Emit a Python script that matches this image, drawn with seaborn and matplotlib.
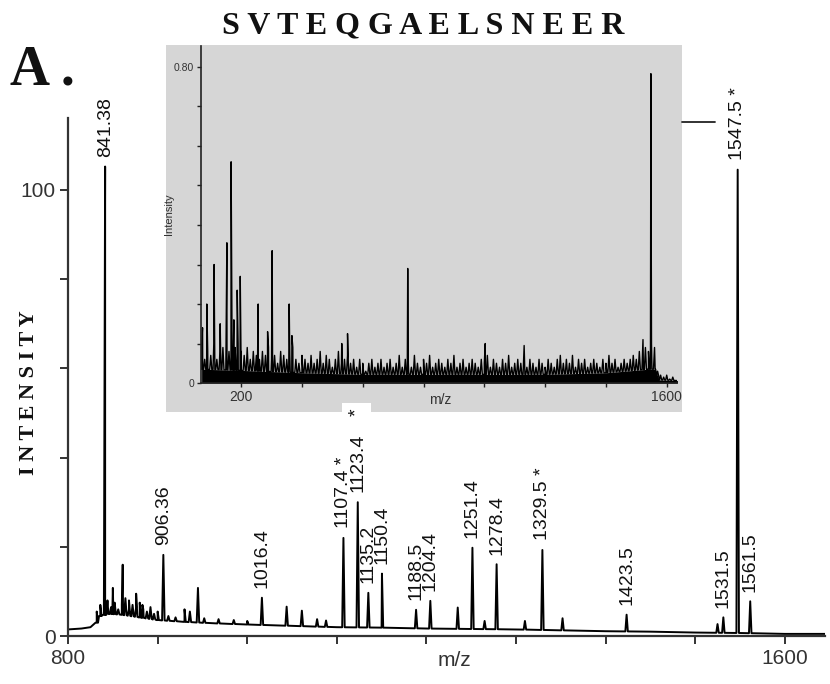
import numpy as np
import pandas as pd
import matplotlib
matplotlib.use("Agg")
import matplotlib.pyplot as plt
from matplotlib.patches import Rectangle
from matplotlib.lines import Line2D
import seaborn as sns

# ---------------- data ----------------
title = "SVTEQGAELSNEER"
panel = "A ."

# main spectrum baseline (m/z, relative intensity)
base_mz = [800, 815, 825, 832, 836, 845, 860, 880, 900, 930, 960, 1000, 1050,
           1100, 1150, 1200, 1250, 1300, 1350, 1400, 1450, 1500, 1550, 1600, 1645]
base_int = [1.5, 1.7, 2.0, 3.0, 4.5, 5.0, 4.8, 4.2, 3.6, 3.2, 2.9, 2.6, 2.3,
            2.0, 1.9, 1.7, 1.6, 1.5, 1.3, 1.1, 1.0, 0.8, 0.7, 0.5, 0.5]

# small fuzz on the baseline just above 830
fuzz_mz = [832, 836, 840, 844, 848, 852, 856, 860, 864, 868, 872, 876, 880,
           884, 888, 892, 896, 900, 912, 920, 936, 952, 968, 985, 1000]
fuzz_int = [5.5, 7.0, 6.0, 8.0, 6.5, 7.5, 6.0, 7.0, 8.5, 6.0, 7.0, 6.5, 7.5,
            6.0, 5.5, 6.5, 5.0, 5.5, 4.5, 4.2, 5.5, 4.0, 3.8, 3.6, 3.4]

# main spectrum peaks
peak_mz = [841.38, 850, 861, 868, 876, 883, 906.36,
           930, 945, 1016.4, 1044, 1061, 1078, 1088, 1107.4, 1123.4, 1135.2,
           1150.4, 1188.5, 1204.4, 1235, 1251.4, 1265, 1278.4, 1310, 1329.5,
           1352, 1423.5, 1525, 1531.5, 1547.5, 1561.5]
peak_int = [105.2, 10.8, 16.0, 8.0, 9.5, 7.0, 18.2,
            6.0, 10.8, 8.6, 6.6, 5.7, 3.8, 3.5, 22.0, 30.0, 9.7,
            14.0, 5.9, 7.9, 6.4, 19.8, 3.4, 16.1, 3.4, 19.3,
            4.0, 4.8, 2.7, 4.2, 104.5, 7.8]

# labelled peaks
label_mz = [841.38, 906.36, 1016.4, 1107.4, 1123.4, 1135.2, 1150.4, 1188.5,
            1204.4, 1251.4, 1278.4, 1329.5, 1423.5, 1531.5, 1547.5, 1561.5]
label_txt = ["841.38", "906.36", "1016.4", "1107.4", "1123.4", "1135.2",
             "1150.4", "1188.5", "1204.4", "1251.4", "1278.4", "1329.5",
             "1423.5", "1531.5", "1547.5", "1561.5"]
starred = [1107.4, 1123.4, 1329.5, 1547.5]

# inset (full-range) spectrum
inset_peak_mz = [73, 87, 111, 131, 153, 167, 176, 187, 197, 256, 287, 302,
                 358, 367, 531, 550, 748, 1003, 1131, 1522, 1548]
inset_peak_int = [0.14, 0.20, 0.30, 0.15, 0.355, 0.56, 0.16, 0.235, 0.27, 0.20,
                  0.13, 0.335, 0.20, 0.12, 0.10, 0.125, 0.29, 0.10, 0.095,
                  0.11, 0.783]
inset_noise_start, inset_noise_step = 70, 10
inset_noise = [
    0.09, 0.06, 0.08, 0.07, 0.10, 0.06, 0.08, 0.09, 0.07, 0.08,
    0.07, 0.09, 0.10, 0.08, 0.07, 0.09, 0.06, 0.08, 0.07, 0.06,
    0.08, 0.07, 0.09, 0.06, 0.07, 0.05, 0.08, 0.07, 0.06, 0.07,
    0.09, 0.06, 0.05, 0.07, 0.06, 0.05, 0.07, 0.05, 0.06, 0.08,
    0.05, 0.07, 0.06, 0.04, 0.06, 0.08, 0.05, 0.06, 0.07, 0.05,
    0.06, 0.04, 0.06, 0.05, 0.03, 0.05, 0.06, 0.04, 0.05, 0.06,
    0.04, 0.05, 0.06, 0.04, 0.05, 0.07, 0.04, 0.06, 0.05, 0.04,
    0.07, 0.05, 0.04, 0.06, 0.05, 0.07, 0.04, 0.05, 0.06, 0.05,
    0.04, 0.06, 0.05, 0.07, 0.04, 0.05, 0.06, 0.04, 0.05, 0.06,
    0.05, 0.04, 0.06, 0.05, 0.07, 0.04, 0.06, 0.05, 0.04, 0.06,
    0.05, 0.07, 0.04, 0.05, 0.06, 0.05, 0.07, 0.04, 0.06, 0.05,
    0.04, 0.06, 0.05, 0.04, 0.06, 0.05, 0.04, 0.06, 0.07, 0.05,
    0.06, 0.05, 0.07, 0.04, 0.06, 0.05, 0.06, 0.04, 0.05, 0.06,
    0.05, 0.04, 0.06, 0.05, 0.07, 0.05, 0.06, 0.04, 0.05, 0.06,
    0.05, 0.06, 0.07, 0.06, 0.08, 0.07, 0.09, 0.08, 0.10, 0.09,
    0.03, 0.02, 0.015, 0.02, 0.01, 0.015]
inset_floor_mz = [70, 200, 400, 600, 800, 1000, 1200, 1400, 1540, 1562, 1575, 1640]
inset_floor = [0.035, 0.032, 0.026, 0.022, 0.022, 0.022, 0.022, 0.026, 0.035,
               0.035, 0.008, 0.006]


# ---------------- build line series ----------------
def stick_series(floor_x, floor_y, sx, sy, half):
    xs = list(floor_x)
    ys = list(floor_y)
    for m, h in zip(sx, sy):
        b = float(np.interp(m, floor_x, floor_y))
        xs += [m - half, m, m + half]
        ys += [b, h, b]
    df = pd.DataFrame({"mz": xs, "intensity": ys}).sort_values("mz", kind="stable")
    return df.reset_index(drop=True)


main_df = stick_series(base_mz, base_int, fuzz_mz + peak_mz, fuzz_int + peak_int, 1.4)

noise_mz = [inset_noise_start + i * inset_noise_step for i in range(len(inset_noise))]
inset_df = stick_series(inset_floor_mz, inset_floor,
                        noise_mz + inset_peak_mz, inset_noise + inset_peak_int, 3.5)

# ---------------- figure ----------------
sns.set_theme(style="ticks")
plt.rcParams["font.family"] = ["Liberation Sans", "DejaVu Sans"]

fig = plt.figure(figsize=(8.3, 6.84), dpi=100)
fig.patch.set_facecolor("white")

ax = fig.add_axes([0.082, 0.070, 0.912, 0.757])
ax.set_zorder(3)
sns.lineplot(data=main_df, x="mz", y="intensity", ax=ax, sort=False,
             estimator=None, color="black", lw=1.4)
ax.set_xlim(800, 1645)
ax.set_ylim(0, 116)
ax.set_xticks(range(800, 1601, 100))
ax.set_xticklabels(["800"] + [""] * 7 + ["1600"])
ax.set_yticks(range(0, 101, 20))
ax.set_yticklabels(["0", "", "", "", "", "100"])
for s in ["top", "right"]:
    ax.spines[s].set_visible(False)
for s in ["left", "bottom"]:
    ax.spines[s].set_linewidth(1.6)
    ax.spines[s].set_color("#333333")
ax.tick_params(axis="both", direction="out", length=6, width=1.4,
               color="#333333", labelsize=15, labelcolor="#333333", pad=3)
ax.set_xlabel("m/z", fontsize=15, color="#333333")
ax.xaxis.set_label_coords(0.511, -0.028)
ax.set_ylabel("I N T E N S I T Y", fontsize=16, fontweight="bold",
              family="Liberation Serif", color="#111111")
ax.yaxis.set_label_coords(-0.038, 0.47)
ax.set_facecolor("none")

# peak labels
for m, t in zip(label_mz, label_txt):
    h = peak_int[peak_mz.index(m)]
    txt = t
    if m in starred and m != 1123.4:
        txt = t + " *"
    ax.annotate(txt, xy=(m, h), xytext=(0, 7), textcoords="offset points",
                rotation=90, ha="center", va="bottom", fontsize=14,
                color="#111111", zorder=6)
h1123 = peak_int[peak_mz.index(1123.4)]
ax.annotate("*", xy=(1123.4, h1123), xytext=(-1, 62), textcoords="offset points",
            rotation=90, ha="center", va="bottom", fontsize=14, color="#111111",
            zorder=8, annotation_clip=False,
            bbox=dict(boxstyle="square,pad=0.3", fc="white", ec="none"))

# inset grey panel
fig.patches.append(Rectangle((0.200, 0.3977), 0.6217, 0.5365,
                             transform=fig.transFigure, facecolor="#d6d6d6",
                             edgecolor="none", zorder=2))
# leader line next to 1547.5
fig.lines.append(Line2D([0.8217, 0.8614], [0.8216, 0.8216],
                        transform=fig.transFigure, color="#222222", lw=1.3,
                        zorder=3))

axi = fig.add_axes([0.2422, 0.440, 0.5735, 0.4927])
axi.set_zorder(5)
axi.set_facecolor("none")
axi.fill_between(inset_floor_mz, 0, inset_floor, color="black", lw=0)
sns.lineplot(data=inset_df, x="mz", y="intensity", ax=axi, sort=False,
             estimator=None, color="black", lw=1.0)
axi.set_xlim(68, 1634)
axi.set_ylim(0, 0.853)
axi.set_xticks(range(200, 1601, 200))
axi.set_xticklabels(["200"] + [""] * 6 + ["1600"])
axi.set_yticks([i / 10 for i in range(0, 9)])
axi.set_yticklabels(["0"] + [""] * 7 + ["0.80"])
for s in ["top", "right"]:
    axi.spines[s].set_visible(False)
for s in ["left", "bottom"]:
    axi.spines[s].set_linewidth(1.2)
    axi.spines[s].set_color("#222222")
axi.tick_params(axis="both", direction="out", length=3, width=1.0,
                color="#222222", labelcolor="#333333", pad=2)
axi.tick_params(axis="x", labelsize=10)
axi.tick_params(axis="y", labelsize=7.5)
axi.set_xlabel("m/z", fontsize=10, color="#333333")
axi.xaxis.set_label_coords(0.502, -0.03)
axi.set_ylabel("Intensity", fontsize=8, color="#333333")
axi.yaxis.set_label_coords(-0.057, 0.5)

# titles
fig.text(0.510, 0.951, "S V T E Q G A E L S N E E R", ha="center",
         va="baseline", fontsize=23, fontweight="bold",
         family="Liberation Serif", color="#111111")
fig.text(0.012, 0.876, panel, ha="left", va="baseline", fontsize=40,
         fontweight="bold", family="Liberation Serif", color="#111111")

fig.savefig("out.png", dpi=100, facecolor="white")
